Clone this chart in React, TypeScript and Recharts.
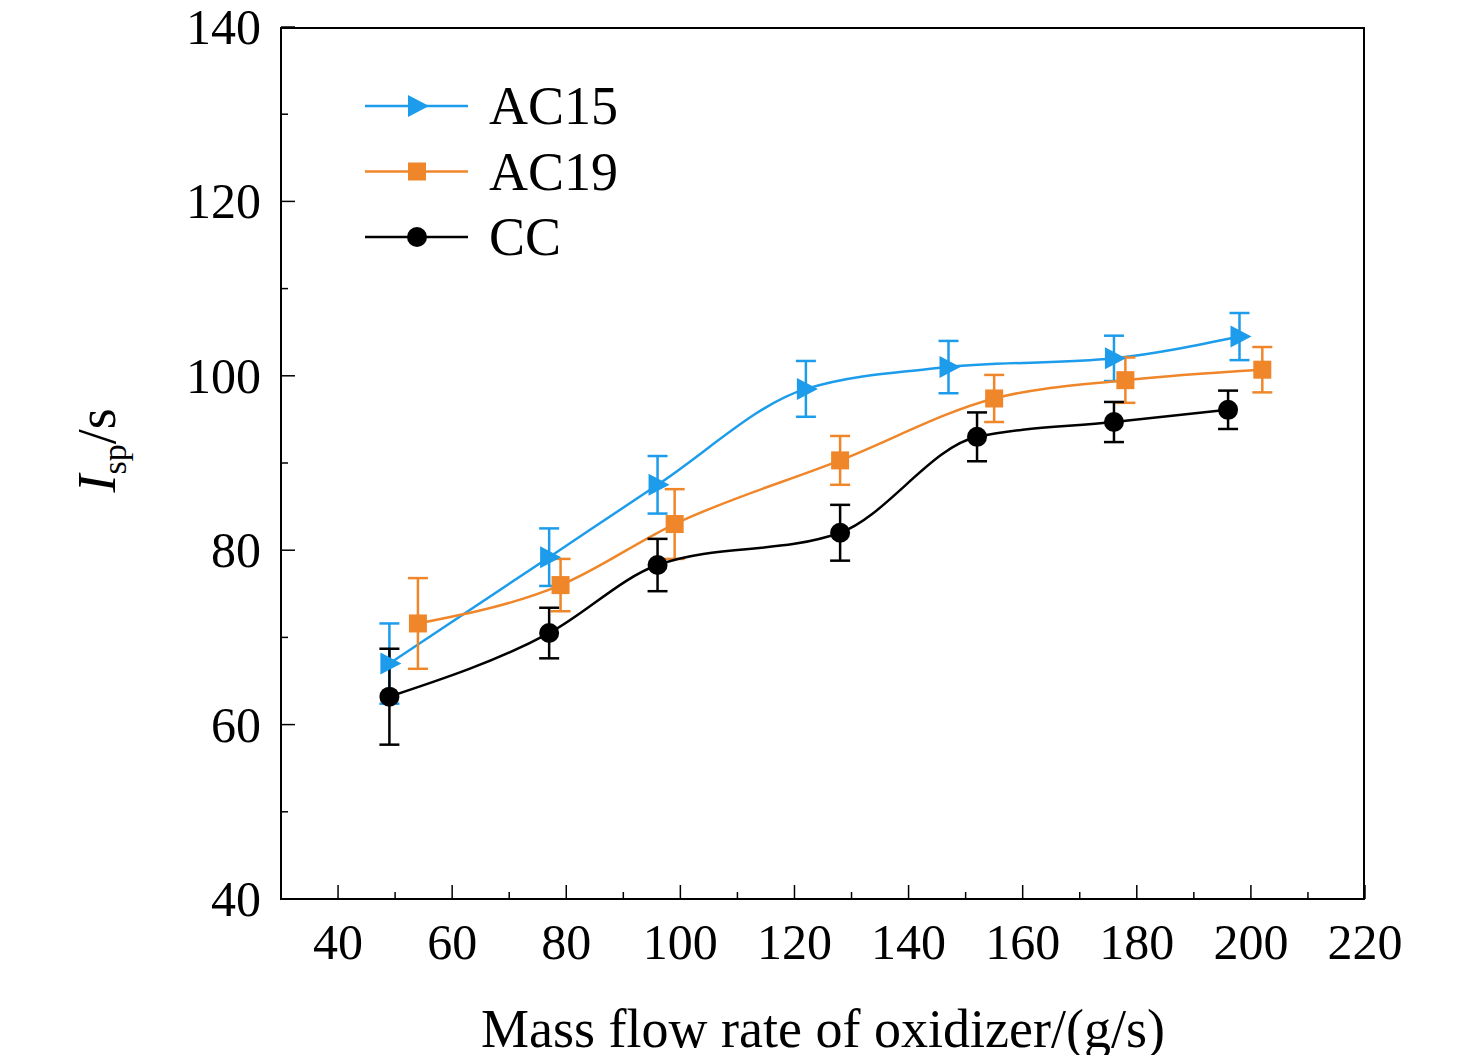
import { ComposedChart, Line, XAxis, YAxis, ErrorBar } from "recharts";

const ac15X = [49, 77, 96, 122, 147, 176, 198];
const ac15Y = [67, 79.2, 87.5, 98.5, 101, 102, 104.5];
const ac15E = [4.6, 3.3, 3.3, 3.2, 3, 2.6, 2.7];
const ac19X = [54, 79, 99, 128, 155, 178, 202];
const ac19Y = [71.6, 76, 83, 90.3, 97.4, 99.5, 100.7];
const ac19E = [5.2, 3, 4, 2.8, 2.7, 2.6, 2.6];
const ccX = [49, 77, 96, 128, 152, 176, 196];
const ccY = [63.2, 70.5, 78.3, 82, 93, 94.7, 96.1];
const ccE = [5.5, 2.9, 3, 3.2, 2.8, 2.3, 2.2];
const xTicks = [40, 50, 60, 70, 80, 90, 100, 110, 120, 130, 140, 150, 160, 170, 180, 190, 200, 210, 220];
const yTicks = [40, 50, 60, 70, 80, 90, 100, 110, 120, 130, 140];

const BLUE = "#1c9cea";
const ORANGE = "#f0862a";
const FONT = "'Liberation Serif', 'Times New Roman', serif";

const build = (xs: number[], ys: number[], es: number[]) =>
  xs.map((x, i) => ({ x, y: ys[i], e: es[i] }));

const tri = (color: string) => (p: any) => (
  <path key={p.index} d={`M${p.cx - 9},${p.cy - 11} L${p.cx + 12},${p.cy} L${p.cx - 9},${p.cy + 11} Z`} fill={color} />
);
const sq = (color: string) => (p: any) => (
  <rect key={p.index} x={p.cx - 9} y={p.cy - 9} width={18} height={18} fill={color} />
);
const circ = (color: string) => (p: any) => (
  <circle key={p.index} cx={p.cx} cy={p.cy} r={10} fill={color} />
);

const XTick = (p: any) => {
  const v = p.payload.value;
  const major = v % 20 === 0;
  return (
    <g>
      <line x1={p.x} x2={p.x} y1={p.y} y2={p.y - (major ? 14 : 7)} stroke="#000" strokeWidth={1.5} />
      {major && (
        <text x={p.x} y={p.y + 60} textAnchor="middle" fontSize={50} fontFamily={FONT} fill="#000">{v}</text>
      )}
    </g>
  );
};
const YTick = (p: any) => {
  const v = p.payload.value;
  const major = v % 20 === 0;
  return (
    <g>
      <line x1={p.x} x2={p.x + (major ? 14 : 7)} y1={p.y} y2={p.y} stroke="#000" strokeWidth={1.5} />
      {major && (
        <text x={p.x - 20} y={p.y + 17} textAnchor="end" fontSize={50} fontFamily={FONT} fill="#000">{v}</text>
      )}
    </g>
  );
};

const legendItems = [
  { name: "AC15", color: BLUE, shape: "tri" },
  { name: "AC19", color: ORANGE, shape: "sq" },
  { name: "CC", color: "#000", shape: "circ" },
];

export default function App() {
  return (
    <div style={{ position: "relative", width: 1460, height: 1047 }}>
      <ComposedChart width={1460} height={1047} margin={{ top: 19, right: 103, bottom: 155, left: 272 }}>
        <XAxis type="number" dataKey="x" domain={[30, 220]} ticks={xTicks} height={1} tickSize={0} tickMargin={0}
          tick={<XTick />} axisLine={false} allowDataOverflow interval={0} />
        <YAxis type="number" domain={[40, 140]} ticks={yTicks} width={1} tickSize={0} tickMargin={0}
          tick={<YTick />} axisLine={false} interval={0} />
        <Line data={build(ac15X, ac15Y, ac15E)} dataKey="y" type="monotone" stroke={BLUE} strokeWidth={2.5}
          dot={tri(BLUE)} isAnimationActive={false}>
          <ErrorBar dataKey="e" direction="y" width={10} stroke={BLUE} strokeWidth={2.5} />
        </Line>
        <Line data={build(ac19X, ac19Y, ac19E)} dataKey="y" type="monotone" stroke={ORANGE} strokeWidth={2.5}
          dot={sq(ORANGE)} isAnimationActive={false}>
          <ErrorBar dataKey="e" direction="y" width={10} stroke={ORANGE} strokeWidth={2.5} />
        </Line>
        <Line data={build(ccX, ccY, ccE)} dataKey="y" type="monotone" stroke="#000" strokeWidth={2.5}
          dot={circ("#000")} isAnimationActive={false}>
          <ErrorBar dataKey="e" direction="y" width={10} stroke="#000" strokeWidth={2.5} />
        </Line>
      </ComposedChart>
      {/* frame and legend */}
      <svg style={{ position: "absolute", left: 0, top: 0, pointerEvents: "none" }} width={1460} height={1047}>
        <rect x={273} y={20} width={1083} height={871} fill="none" stroke="#000" strokeWidth={2} />
        {legendItems.map((it, i) => {
          const y = 98 + i * 65.5;
          const cx = 409;
          return (
            <g key={it.name}>
              <line x1={357} x2={460} y1={y} y2={y} stroke={it.color} strokeWidth={2.5} />
              {it.shape === "tri" && <path d={`M${cx - 9},${y - 11} L${cx + 12},${y} L${cx - 9},${y + 11} Z`} fill={it.color} />}
              {it.shape === "sq" && <rect x={cx - 9} y={y - 9} width={18} height={18} fill={it.color} />}
              {it.shape === "circ" && <circle cx={cx} cy={y} r={10} fill={it.color} />}
              <text x={481} y={y + 18} fontSize={54} fontFamily={FONT} fill="#000">{it.name}</text>
            </g>
          );
        })}
      </svg>
      <div style={{ position: "absolute", left: 0, right: 0, top: 990, textAlign: "center", paddingLeft: 170,
        fontFamily: FONT, fontSize: 54 }}>
        Mass flow rate of oxidizer/(g/s)
      </div>
      <div style={{ position: "absolute", left: 42, top: 400, width: 100, transform: "rotate(-90deg)",
        transformOrigin: "center", fontFamily: FONT, fontSize: 54, whiteSpace: "nowrap" }}>
        <i>I</i><sub style={{ fontSize: 34 }}>sp</sub>/s
      </div>
    </div>
  );
}
